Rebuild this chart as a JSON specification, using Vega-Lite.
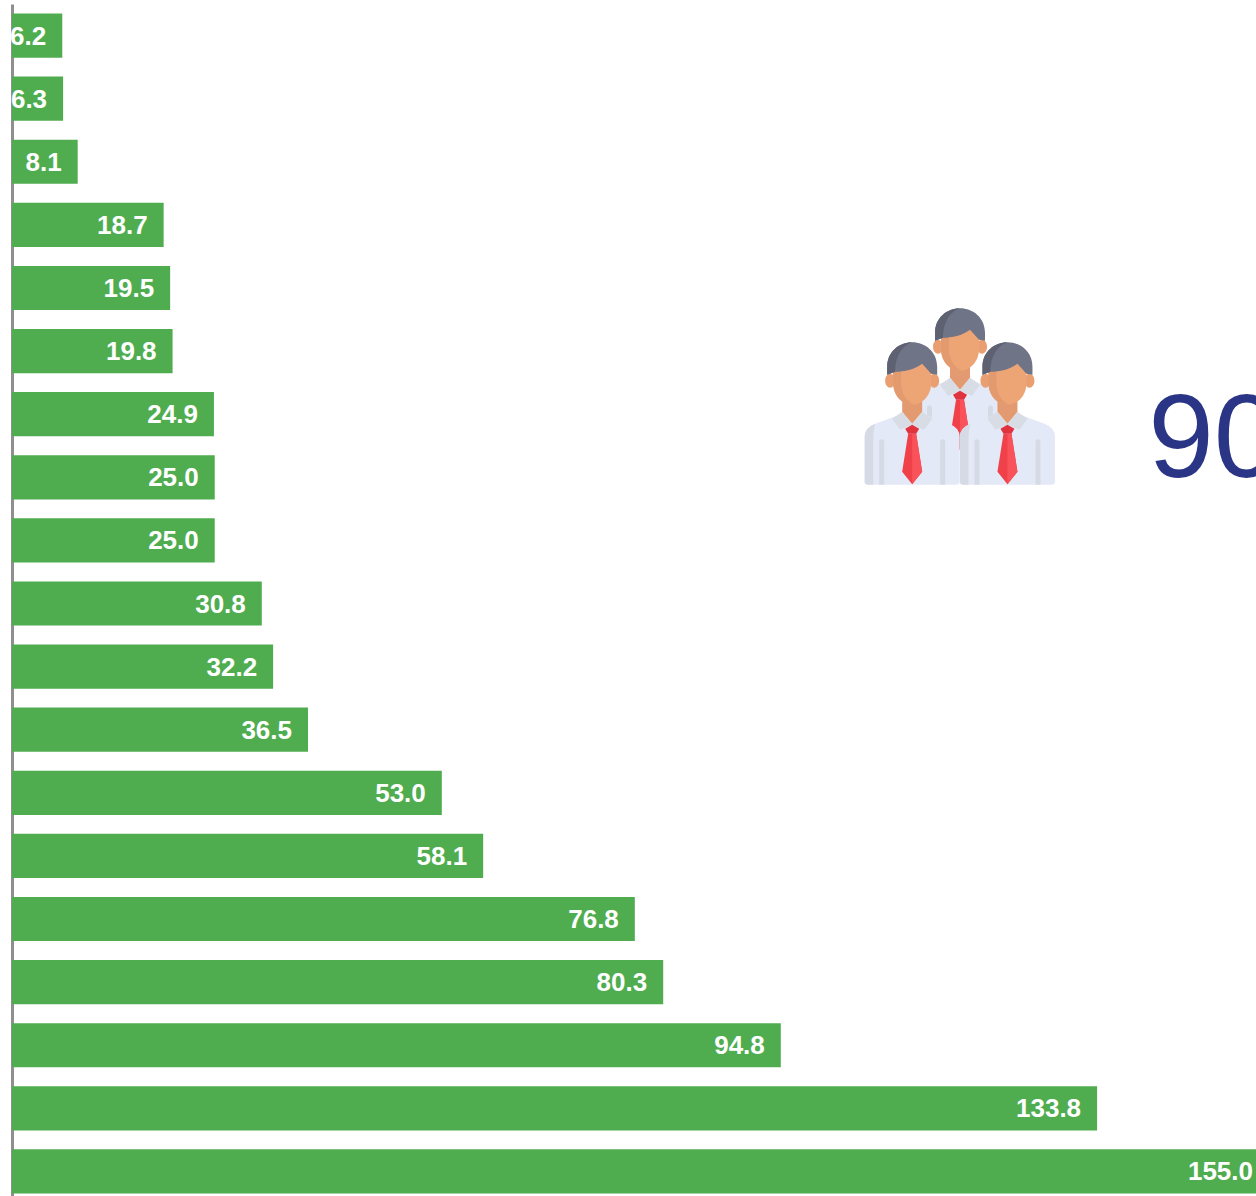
{"$schema":"https://vega.github.io/schema/vega-lite/v6.json","width":1257,"height":1199,"padding":{"left":12,"top":4,"right":0,"bottom":0},"autosize":{"type":"none"},"background":"white","view":{"stroke":null},
"datasets":{"bars":[{"row":1,"v":6.2},{"row":2,"v":6.3},{"row":3,"v":8.1},{"row":4,"v":18.7},{"row":5,"v":19.5},{"row":6,"v":19.8},{"row":7,"v":24.9},{"row":8,"v":25.0},{"row":9,"v":25.0},{"row":10,"v":30.8},{"row":11,"v":32.2},{"row":12,"v":36.5},{"row":13,"v":53.0},{"row":14,"v":58.1},{"row":15,"v":76.8},{"row":16,"v":80.3},{"row":17,"v":94.8},{"row":18,"v":133.8},{"row":19,"v":155.0}],
"icon":[
{"f":"b","part":"shirt","x":116.9,"y":373.7},{"f":"b","part":"sleeve","x":116.9,"y":373.7},{"f":"b","part":"arms","x":116.9,"y":373.7},{"f":"b","part":"neck","x":116.9,"y":373.7},{"f":"b","part":"ears","x":116.9,"y":373.7},{"f":"b","part":"face","x":116.9,"y":373.7},{"f":"b","part":"shade","x":116.9,"y":373.7},{"f":"b","part":"hair","x":116.9,"y":373.7},{"f":"b","part":"hairdark","x":116.9,"y":373.7},{"f":"b","part":"collar","x":116.9,"y":373.7},{"f":"b","part":"tie","x":116.9,"y":373.7},{"f":"b","part":"tielight","x":116.9,"y":373.7},{"f":"b","part":"knot","x":116.9,"y":373.7},
{"f":"l","part":"shirt","x":111.0,"y":407.7},{"f":"l","part":"sleeve","x":111.0,"y":407.7},{"f":"l","part":"arms","x":111.0,"y":407.7},{"f":"l","part":"neck","x":111.0,"y":407.7},{"f":"l","part":"ears","x":111.0,"y":407.7},{"f":"l","part":"face","x":111.0,"y":407.7},{"f":"l","part":"shade","x":111.0,"y":407.7},{"f":"l","part":"hair","x":111.0,"y":407.7},{"f":"l","part":"hairdark","x":111.0,"y":407.7},{"f":"l","part":"collar","x":111.0,"y":407.7},{"f":"l","part":"tie","x":111.0,"y":407.7},{"f":"l","part":"tielight","x":111.0,"y":407.7},{"f":"l","part":"knot","x":111.0,"y":407.7},
{"f":"r","part":"shirt","x":122.75,"y":407.7},{"f":"r","part":"sleeve","x":122.75,"y":407.7},{"f":"r","part":"arms","x":122.75,"y":407.7},{"f":"r","part":"neck","x":122.75,"y":407.7},{"f":"r","part":"ears","x":122.75,"y":407.7},{"f":"r","part":"face","x":122.75,"y":407.7},{"f":"r","part":"shade","x":122.75,"y":407.7},{"f":"r","part":"hair","x":122.75,"y":407.7},{"f":"r","part":"hairdark","x":122.75,"y":407.7},{"f":"r","part":"collar","x":122.75,"y":407.7},{"f":"r","part":"tie","x":122.75,"y":407.7},{"f":"r","part":"tielight","x":122.75,"y":407.7},{"f":"r","part":"knot","x":122.75,"y":407.7}
],
"big":[{"x":140.1,"y":472.5,"t":"90"}]},
"layer":[
{"data":{"name":"bars"},"mark":{"type":"bar","color":"#4fad50"},"encoding":{"y":{"field":"row","type":"ordinal","scale":{"paddingInner":0.3,"paddingOuter":0.15},"axis":{"labels":false,"ticks":false,"title":null,"domainColor":"#8f8f8f","domainWidth":3,"grid":false}},"x":{"field":"v","type":"quantitative","scale":{"domain":[0,155],"nice":false},"axis":null}}},
{"data":{"name":"bars"},"mark":{"type":"text","align":"right","baseline":"middle","dx":-16,"dy":1,"font":"Liberation Sans","fontSize":26,"fontWeight":"bold","color":"white"},"encoding":{"y":{"field":"row","type":"ordinal","scale":{"paddingInner":0.3,"paddingOuter":0.15},"axis":null},"x":{"field":"v","type":"quantitative"},"text":{"field":"v","type":"quantitative","format":".1f"}}},
{"data":{"name":"icon"},"mark":{"type":"point","filled":true,"size":4,"opacity":1,"strokeWidth":0},"encoding":{"x":{"field":"x","type":"quantitative"},"y":{"field":"y","type":"quantitative","scale":{"domain":[1199,0],"nice":false,"zero":false},"axis":null},
"shape":{"field":"part","type":"nominal","legend":null,"scale":{"domain":["shirt","sleeve","arms","neck","ears","face","shade","hair","hairdark","collar","tie","tielight","knot"],"range":[
"M-44,73 Q-47.5,73 -47.5,70 L-47.5,25 Q-47.5,16 -37,12 L-10,2 L10,2 L37,12 Q47.5,16 47.5,25 L47.5,70 Q47.5,73 44,73 Z",
"M-39,73 L-44,73 Q-47.5,73 -47.5,70 L-47.5,25 Q-47.5,16 -37,12 Q-39,18 -39,30 Z",
"M-33,73 L-33,30 A2.5,2.5 0 0,1 -28,30 L-28,73 Z M28,73 L28,30 A2.5,2.5 0 0,1 33,30 L33,73 Z",
"M-10,-17 L10,-17 L10,0 L0,12 L-10,0 Z",
"M-27,-31 a5,7 0 1,0 10,0 a5,7 0 1,0 -10,0 Z M17,-31 a5,7 0 1,0 10,0 a5,7 0 1,0 -10,0 Z",
"M-19,-55 L19,-55 L19,-29 C19,-15 9,-7 0,-7 C-9,-7 -19,-15 -19,-29 Z",
"M-19,-50 L-11,-50 L-11,-28 C-11,-18 -5,-10 2,-7 L0,-7 C-9,-7 -19,-15 -19,-29 Z",
"M-25,-37 L-25,-45 C-25,-60 -13,-69.5 0,-69.5 C13,-69.5 25,-60 25,-45 L25,-37 L19,-38 L10,-48 C2,-42 -8,-40 -17,-40 Z",
"M-25,-37 L-25,-45 C-25,-60 -13,-69.5 0,-69.5 C-8,-67 -17,-58 -17,-40 Z",
"M-20,7 L-10,0 L0,13 L-12,18 Z M20,7 L10,0 L0,13 L12,18 Z",
"M-4,22 L-10,60 L0,72.5 L10,60 L4,22 Z",
"M0,22 L4,22 L10,60 L0,72.5 Z",
"M-7,17 L0,13 L7,17 L4,22 L-4,22 Z"]}},
"color":{"field":"part","type":"nominal","legend":null,"scale":{"domain":["shirt","sleeve","arms","neck","ears","face","shade","hair","hairdark","collar","tie","tielight","knot"],"range":["#e4e9f7","#d5dae4","#d5dae4","#e39a70","#ea9f73","#eea576","#e49a6f","#6f7486","#5d6172","#d8dce5","#f0404a","#f9525a","#e0333e"]}}}},
{"data":{"name":"big"},"mark":{"type":"text","align":"left","baseline":"alphabetic","font":"Liberation Sans","fontSize":118,"color":"#2a3585"},"encoding":{"x":{"field":"x","type":"quantitative"},"y":{"field":"y","type":"quantitative","scale":{"domain":[1199,0],"nice":false,"zero":false},"axis":null},"text":{"field":"t"}}}
],"resolve":{"scale":{"y":"independent"},"axis":{"y":"independent"}}}
